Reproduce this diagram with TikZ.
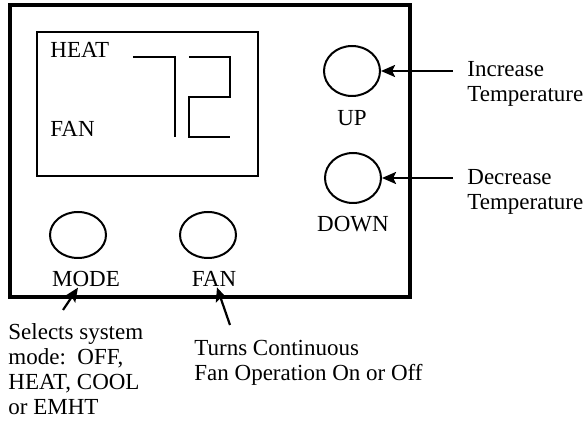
\documentclass[tikz,border=0pt]{standalone}
\usepackage{fontspec}
\setmainfont{Liberation Serif}
\usetikzlibrary{shapes.geometric,arrows.meta}

\begin{document}
\begin{tikzpicture}[x=0.5pt,y=-0.5pt,>={Stealth[length=7pt,width=6pt,inset=1.4pt]},
        font=\fontsize{11.5pt}{12.5pt}\selectfont,
        button/.style={draw,ellipse,line width=1pt,minimum width=28pt,minimum height=25pt,inner sep=0pt},
        lbl/.style={inner sep=0pt,anchor=base},
        note/.style={inner sep=0pt,anchor=north west,align=left},
        pointer/.style={->,line width=1.1pt}]
        \useasboundingbox (0,0) rectangle (586,422);

        % Nodes
        \node[draw,line width=1.8pt,minimum width=200pt,minimum height=146pt,inner sep=0pt] (case) at (210,151) {};
        \node[draw,line width=1.4pt,minimum width=110.5pt,minimum height=72pt,inner sep=0pt] (screen) at (147.5,104) {};
        \node[button] (up) at (352,71) {};
        \node[button] (down) at (353,178) {};
        \node[button,minimum height=23pt] (mode) at (78,235) {};
        \node[button,minimum height=23pt] (fan) at (208,235) {};

        % Display
        \node[lbl,anchor=base west] (heat) at (50,58) {HEAT};
        \node[lbl,anchor=base west] (fanon) at (50,137) {FAN};
        \draw[line width=0.9pt] (133,57) -- (175,57) -- (175,137);
        \draw[line width=0.9pt] (189,57) -- (230,57) -- (230,97) -- (189,97) -- (189,137) -- (230,137);

        % Labels
        \node[lbl] (uplbl) at (352,126) {UP};
        \node[lbl] (downlbl) at (353,232) {DOWN};
        \node[lbl] (modelbl) at (86,287) {MODE};
        \node[lbl] (fanlbl) at (214,287) {FAN};
        \node[note] (incr) at (467,61) {Increase\\Temperature};
        \node[note] (decr) at (467,169) {Decrease\\Temperature};
        \node[note] (modenote) at (8,323) {Selects system\\mode:~~OFF,\\HEAT, COOL\\or EMHT};
        \node[note] (fannote) at (194,340) {Turns Continuous\\Fan Operation On or Off};

        % Connections
        \coordinate (upin) at (453,71);
        \coordinate (downin) at (453,178);
        \coordinate (modein) at (63,310);
        \coordinate (fanin) at (230,325);
        \draw[pointer] (upin) -- (up);
        \draw[pointer] (downin) -- (down);
        \draw[pointer] (modein) -- (modelbl.south -| mode);
        \draw[pointer] (fanin) -- ([xshift=1.5pt]fanlbl.south);
    \end{tikzpicture}
\end{document}
